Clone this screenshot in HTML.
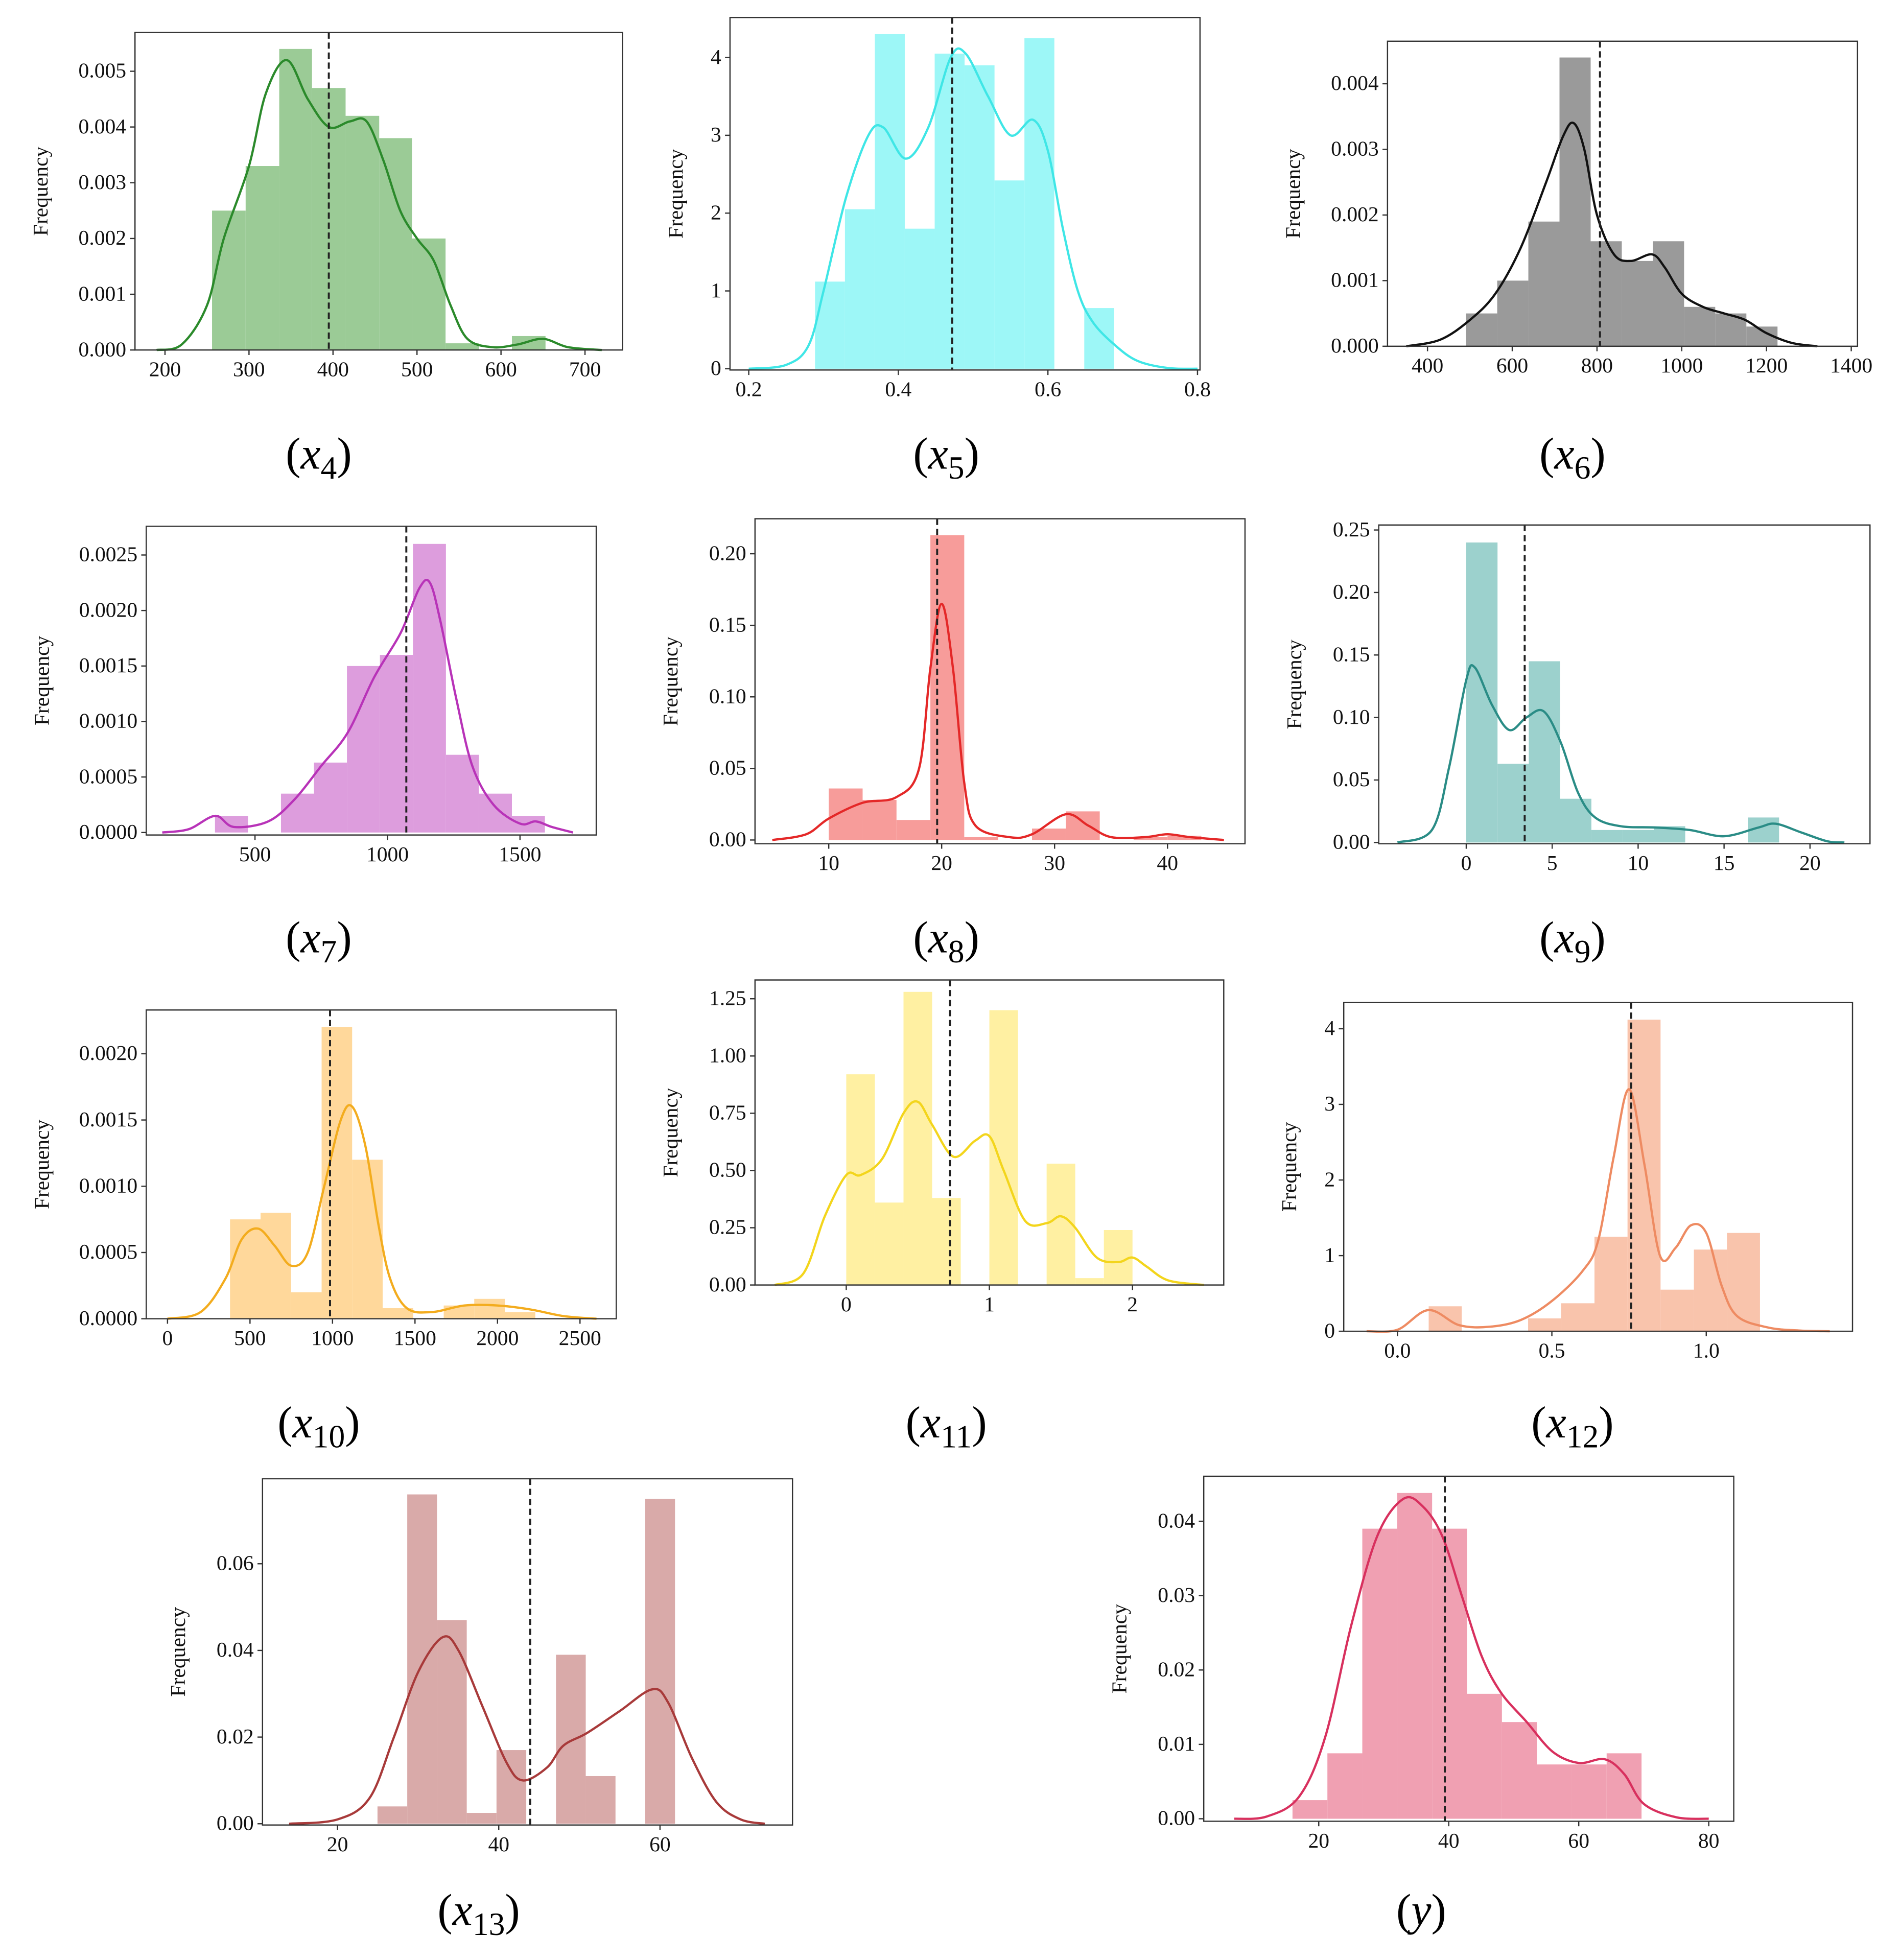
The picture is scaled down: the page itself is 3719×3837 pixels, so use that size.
<!DOCTYPE html>
<html><head><meta charset="utf-8">
<style>
html,body{margin:0;padding:0;background:#fff;}
svg{display:block;}
text{font-family:"Liberation Serif",serif;}
</style></head>
<body>
<svg id="fig" xmlns="http://www.w3.org/2000/svg" width="3719" height="3837" viewBox="0 0 1520 1568" preserveAspectRatio="none"></svg>
<script>
// ---- data arrays ----
const x4Edges=[256,296,336,375,415,455,494,534,574,613,653];
const x4Heights=[.0025,.0033,.0054,.0047,.0042,.0038,.0020,.00012,0,.00025];
const x4KdeX=[190,220,250,270,300,320,345,370,395,420,440,460,480,500,520,540,560,590,620,650,680,720];
const x4KdeY=[0,.0001,.0008,.0020,.0033,.0046,.0052,.0045,.0040,.0041,.0041,.0034,.0025,.0020,.0016,.0008,.0002,.00005,.0001,.0002,.00005,0];
const x4Ticks=[200,300,400,500,600,700];const x4YTicks=[0,.001,.002,.003,.004,.005];

const x5Edges=[.2886,.3286,.3686,.4086,.4486,.4886,.5286,.5686,.6086,.6486,.6886];
const x5Heights=[1.12,2.05,4.3,1.8,4.05,3.9,2.42,4.25,0,.78];
const x5KdeX=[.2,.25,.28,.3,.33,.36,.38,.41,.44,.47,.49,.52,.55,.58,.6,.62,.64,.66,.69,.72,.76,.8];
const x5KdeY=[0,.05,.3,1.0,2.2,3.0,3.1,2.7,3.1,4.0,4.05,3.5,3.0,3.2,2.8,1.8,1.0,.6,.3,.1,.01,0];
const x5Ticks=[.2,.4,.6,.8];const x5YTicks=[0,1,2,3,4];

const x6Edges=[491,564.5,638,711.5,785,858.5,932,1005.5,1079,1152.5,1226];
const x6Heights=[.0005,.0010,.0019,.0044,.0016,.0013,.0016,.0006,.0005,.0003];
const x6KdeX=[350,430,500,560,620,680,720,745,770,800,840,880,930,960,1000,1050,1100,1150,1200,1260,1320];
const x6KdeY=[0,.0001,.0004,.0008,.0015,.0025,.0032,.0034,.0030,.0020,.0014,.0013,.0014,.0012,.0008,.0006,.0005,.0004,.0002,.00005,0];
const x6Ticks=[400,600,800,1000,1200,1400];const x6YTicks=[0,.001,.002,.003,.004];

const x7Edges=[349,473.5,598,722.5,847,971.5,1096,1220.5,1345,1469.5,1594];
const x7Heights=[.00015,0,.00035,.00063,.0015,.0016,.0026,.0007,.00035,.00015];
const x7KdeX=[150,250,350,420,550,650,750,850,950,1050,1120,1160,1200,1260,1320,1400,1500,1560,1620,1700];
const x7KdeY=[0,.00003,.00015,.00005,.0001,.0003,.0006,.0009,.0014,.0018,.0022,.00225,.0019,.0012,.0006,.00025,.00008,.0001,.00005,0];
const x7Ticks=[500,1000,1500];const x7YTicks=[0,.0005,.001,.0015,.002,.0025];

const x8Edges=[10,13,16,19,22,25,28,31,34,37,40,43];
const x8Heights=[.036,.028,.014,.213,.002,0,.008,.02,0,.002,.003];
const x8KdeX=[5,8,10,13,16,18,19,20,21,22,23,26,28,31,33,35,38,40,42,45];
const x8KdeY=[0,.004,.015,.026,.03,.05,.12,.165,.12,.04,.01,.002,.004,.018,.01,.002,.002,.004,.002,0];
const x8Ticks=[10,20,30,40];const x8YTicks=[0,.05,.1,.15,.2];

const x9Edges=[0,1.82,3.64,5.46,7.28,9.1,10.92,12.74,14.56,16.38,18.2];
const x9Heights=[.24,.063,.145,.035,.01,.01,.013,0,0,.02];
const x9KdeX=[-4,-2,-1,0,.5,1.5,2.5,3.5,4.5,5.5,6.5,7.5,9,11,13,15,17,18,19.5,21,22];
const x9KdeY=[0,.01,.06,.13,.14,.11,.09,.10,.105,.08,.04,.02,.013,.012,.01,.005,.012,.015,.008,.001,0];
const x9Ticks=[0,5,10,15,20];const x9YTicks=[0,.05,.1,.15,.2,.25];

const x10Edges=[379,564,749,934,1119,1304,1489,1674,1859,2044,2229];
const x10Heights=[.00075,.0008,.0002,.0022,.0012,.00008,0,.0001,.00015,.00005];
const x10KdeX=[0,200,350,450,550,650,750,850,950,1050,1120,1200,1280,1350,1450,1600,1800,2000,2200,2400,2600];
const x10KdeY=[0,.00005,.0003,.0006,.00068,.00055,.0004,.0005,.001,.0015,.0016,.0013,.0007,.0003,.00008,.00005,.0001,.0001,.00007,.00002,0];
const x10Ticks=[0,500,1000,1500,2000,2500];const x10YTicks=[0,.0005,.001,.0015,.002];

const x11Edges=[0,.2,.4,.6,.8,1,1.2,1.4,1.6,1.8,2];
const x11Heights=[.92,.36,1.28,.38,0,1.2,0,.53,.03,.24];
const x11KdeX=[-.5,-.3,-.15,0,.1,.25,.4,.5,.6,.75,.9,1,1.1,1.25,1.4,1.5,1.6,1.75,1.9,2,2.1,2.25,2.5];
const x11KdeY=[0,.05,.3,.48,.48,.55,.75,.8,.7,.56,.63,.65,.5,.28,.27,.3,.25,.12,.1,.12,.08,.02,0];
const x11Ticks=[0,1,2];const x11YTicks=[0,.25,.5,.75,1,1.25];

const x12Edges=[.101,.208,.316,.423,.53,.638,.745,.852,.96,1.067,1.174];
const x12Heights=[.33,0,0,.17,.37,1.25,4.12,.55,1.08,1.3];
const x12KdeX=[-.1,0,.1,.2,.3,.4,.5,.6,.65,.7,.75,.8,.85,.9,.95,1,1.05,1.1,1.2,1.3,1.4];
const x12KdeY=[0,.02,.28,.08,.06,.15,.4,.8,1.2,2.3,3.2,2.2,1.0,1.1,1.4,1.3,.6,.2,.05,.01,0];
const x12Ticks=[0,.5,1];const x12YTicks=[0,1,2,3,4];

const x13Edges=[24.96,28.65,32.34,36.03,39.72,43.41,47.1,50.79,54.48,58.17,61.86];
const x13Heights=[.004,.076,.047,.0025,.017,0,.039,.011,0,.075];
const x13KdeX=[14,20,24,27,30,33,35,38,41,43,46,48,51,55,59,61,64,67,70,73];
const x13KdeY=[0,.001,.006,.02,.035,.043,.04,.027,.014,.01,.013,.018,.021,.026,.031,.028,.015,.005,.001,0];
const x13Ticks=[20,40,60];const x13YTicks=[0,.02,.04,.06];

const yEdges=[15.96,21.33,26.7,32.07,37.44,42.81,48.18,53.55,58.92,64.29,69.66];
const yHeights=[.0025,.0088,.039,.0438,.039,.0168,.013,.0073,.0073,.0088];
const yKdeX=[7,12,17,21,25,29,33,36,39,42,45,48,52,56,60,64,67,70,75,80];
const yKdeY=[0,.0003,.003,.011,.026,.038,.043,.042,.038,.03,.022,.017,.013,.009,.0075,.008,.006,.002,.0002,0];
const yTicks=[20,40,60,80];const yYTicks=[0,.01,.02,.03,.04];

const means=[395,.472,807,1071,19.6,3.4,985,.725,.757,43.9,39.4];

// ---- layout (pixels in 1520x1568 space) ----
const panels=[
 {id:'x4',sub:'4',box:[108,26,498,280],xm:[200,132,700,468],ym:[0,280,.005,57],bar:'#9bcb96',line:'#2b8a2b',e:x4Edges,h:x4Heights,kx:x4KdeX,ky:x4KdeY,xt:x4Ticks,yt:x4YTicks,xf:v=>v,yf:v=>v.toFixed(3),lab:[255,365]},
 {id:'x5',sub:'5',box:[584,14,960,296],xm:[.2,599,.8,958],ym:[0,295,4,46],bar:'#9df7f7',line:'#3fe6e6',e:x5Edges,h:x5Heights,kx:x5KdeX,ky:x5KdeY,xt:x5Ticks,yt:x5YTicks,xf:v=>v.toFixed(1),yf:v=>v,lab:[757,365]},
 {id:'x6',sub:'6',box:[1110,33,1486,277],xm:[400,1142,1400,1481],ym:[0,277,.004,67],bar:'#9a9a9a',line:'#111',e:x6Edges,h:x6Heights,kx:x6KdeX,ky:x6KdeY,xt:x6Ticks,yt:x6YTicks,xf:v=>v,yf:v=>v.toFixed(3),lab:[1258,365]},
 {id:'x7',sub:'7',box:[117,421,477,668],xm:[500,204,1500,416],ym:[0,666,.0025,444],bar:'#dd9ddd',line:'#b833b8',e:x7Edges,h:x7Heights,kx:x7KdeX,ky:x7KdeY,xt:x7Ticks,yt:x7YTicks,xf:v=>v,yf:v=>v.toFixed(4),lab:[255,752]},
 {id:'x8',sub:'8',box:[604,415,996,675],xm:[10,663,40,934],ym:[0,672,.2,443],bar:'#f79c9a',line:'#e42828',e:x8Edges,h:x8Heights,kx:x8KdeX,ky:x8KdeY,xt:x8Ticks,yt:x8YTicks,xf:v=>v,yf:v=>v.toFixed(2),lab:[757,752]},
 {id:'x9',sub:'9',box:[1103,420,1496,675],xm:[0,1173,20,1448],ym:[0,674,.25,424],bar:'#9cd1cd',line:'#2a8c86',e:x9Edges,h:x9Heights,kx:x9KdeX,ky:x9KdeY,xt:x9Ticks,yt:x9YTicks,xf:v=>v,yf:v=>v.toFixed(2),lab:[1258,752]},
 {id:'x10',sub:'10',box:[117,808,493,1055],xm:[0,134,2500,464],ym:[0,1055,.002,843],bar:'#ffd89b',line:'#f3ac1e',e:x10Edges,h:x10Heights,kx:x10KdeX,ky:x10KdeY,xt:x10Ticks,yt:x10YTicks,xf:v=>v,yf:v=>v.toFixed(4),lab:[255,1140]},
 {id:'x11',sub:'11',box:[604,784,979,1028],xm:[0,677,2,906],ym:[0,1028,1.25,799],bar:'#fff0a2',line:'#f3d51c',e:x11Edges,h:x11Heights,kx:x11KdeX,ky:x11KdeY,xt:x11Ticks,yt:x11YTicks,xf:v=>v,yf:v=>v.toFixed(2),lab:[757,1140]},
 {id:'x12',sub:'12',box:[1075,802,1482,1065],xm:[0,1118,1,1365],ym:[0,1065,4,823],bar:'#f9c4ac',line:'#ee8b62',e:x12Edges,h:x12Heights,kx:x12KdeX,ky:x12KdeY,xt:x12Ticks,yt:x12YTicks,xf:v=>v.toFixed(1),yf:v=>v,lab:[1258,1140]},
 {id:'x13',sub:'13',box:[210,1183,634,1460],xm:[20,270,60,528],ym:[0,1459,.06,1251],bar:'#d9aaa9',line:'#a83a3a',e:x13Edges,h:x13Heights,kx:x13KdeX,ky:x13KdeY,xt:x13Ticks,yt:x13YTicks,xf:v=>v,yf:v=>v.toFixed(2),lab:[383,1530]},
 {id:'y',sub:'',box:[963,1181,1387,1457],xm:[20,1055,80,1367],ym:[0,1455,.04,1217],bar:'#f0a0b2',line:'#d8305e',e:yEdges,h:yHeights,kx:yKdeX,ky:yKdeY,xt:yTicks,yt:yYTicks,xf:v=>v,yf:v=>v.toFixed(2),lab:[1137,1530]}
];

const NS='http://www.w3.org/2000/svg';
const svg=document.getElementById('fig');
function mk(tag,attrs,parent){const el=document.createElementNS(NS,tag);for(const k in attrs)el.setAttribute(k,attrs[k]);(parent||svg).appendChild(el);return el;}
function smooth(pts){let d='M'+pts[0][0]+','+pts[0][1];for(let i=0;i<pts.length-1;i++){const p0=pts[i-1]||pts[i],p1=pts[i],p2=pts[i+1],p3=pts[i+2]||p2;
 d+=' C'+(p1[0]+(p2[0]-p0[0])/6)+','+(p1[1]+(p2[1]-p0[1])/6)+' '+(p2[0]-(p3[0]-p1[0])/6)+','+(p2[1]-(p3[1]-p1[1])/6)+' '+p2[0]+','+p2[1];}return d;}

panels.forEach((p,pi)=>{
 const X=v=>p.xm[1]+(v-p.xm[0])*(p.xm[3]-p.xm[1])/(p.xm[2]-p.xm[0]);
 const Y=v=>p.ym[1]+(v-p.ym[0])*(p.ym[3]-p.ym[1])/(p.ym[2]-p.ym[0]);
 const g=mk('g',{});
 
 
 const [bx0,by0,bx1,by1]=p.box;
 p.h.forEach((hv,i)=>{
  if(hv<=0)return;
  const r=mk('rect',{x:X(p.e[i]),y:Y(hv),width:X(p.e[i+1])-X(p.e[i]),height:Y(0)-Y(hv),fill:p.bar},g);
  
  
 });
 const pts=p.kx.map((v,i)=>[X(v),Y(p.ky[i])]);
 const k=mk('path',{d:smooth(pts),fill:'none',stroke:p.line,'stroke-width':1.8},g);
 
 
 const m=mk('line',{x1:X(means[pi]),x2:X(means[pi]),y1:by0,y2:by1,stroke:'#222','stroke-width':1.6,'stroke-dasharray':'5,3'},g);
 
 
 const b=mk('rect',{x:bx0,y:by0,width:bx1-bx0,height:by1-by0,fill:'none',stroke:'#333','stroke-width':1},g);
 
 
 p.xt.forEach(v=>{
  mk('line',{x1:X(v),x2:X(v),y1:by1,y2:by1+4,stroke:'#333'},g);
  const t=mk('text',{x:X(v),y:by1+21,'font-size':17,'text-anchor':'middle',fill:'#111'},g);
  t.textContent=p.xf(v);
  
  
 });
 p.yt.forEach(v=>{
  mk('line',{x1:bx0-4,x2:bx0,y1:Y(v),y2:Y(v),stroke:'#333'},g);
  const t=mk('text',{x:bx0-7,y:Y(v)+5,'font-size':17,'text-anchor':'end',fill:'#111'},g);
  t.textContent=p.yf(v);
  
  
 });
 const longest=Math.max(...p.yt.map(v=>String(p.yf(v)).length));
 const yl=bx0-30-longest*8;
 const cy=(by0+by1)/2;
 const ylab=mk('text',{x:yl,y:cy,'font-size':17,'text-anchor':'middle',transform:'rotate(-90 '+yl+' '+cy+')',fill:'#111'},g);
 ylab.textContent='Frequency';
 
 
 const lab=mk('text',{x:p.lab[0],y:p.lab[1]+10,'font-size':36,'text-anchor':'middle',fill:'#000'},g);
 
 
 const t1=mk('tspan',{},lab);t1.textContent='(';
 const t2=mk('tspan',{'font-style':'italic'},lab);t2.textContent=p.id==='y'?'y':'x';
 if(p.sub){const t3=mk('tspan',{'font-size':26,dy:8},lab);t3.textContent=p.sub;const t4=mk('tspan',{dy:-8},lab);t4.textContent=')';}
 else{const t4=mk('tspan',{},lab);t4.textContent=')';}
});
</script>
</body></html>
